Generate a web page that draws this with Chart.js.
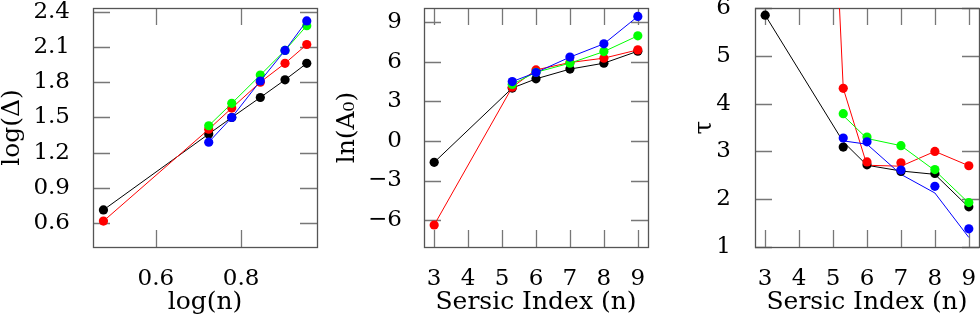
<!DOCTYPE html>
<html>
<head>
<meta charset="utf-8">
<script src="https://cdn.jsdelivr.net/npm/chart.js@4/dist/chart.umd.min.js"></script>
<style>
  html, body { margin: 0; padding: 0; background: #fff; }
  body { width: 980px; height: 317px; position: relative; overflow: hidden; }
  canvas { position: absolute; top: 0; }
</style>
</head>
<body>
<canvas id="c1" width="320" height="317" style="left:0px"></canvas>
<canvas id="c2" width="320" height="317" style="left:330px"></canvas>
<canvas id="c3" width="320" height="317" style="left:660px"></canvas>
<script>
// x values
const sersicN = [3, 5.3, 6, 7, 8, 9];
const logN = [0.477, 0.724, 0.778, 0.845, 0.903, 0.954];

// panel 1: log(Delta) vs log(n)
const logDeltaBlack = [0.715, 1.36, 1.50, 1.67, 1.82, 1.96];
const logDeltaRed   = [0.62, 1.40, 1.58, 1.80, 1.96, 2.12];
const logDeltaGreen = [null, 1.43, 1.62, 1.86, 2.07, 2.28];
const logDeltaBlue  = [null, 1.29, 1.50, 1.81, 2.07, 2.32];

// panel 2: ln(A0) vs Sersic index
const lnA0Black = [-1.62, 4.02, 4.72, 5.46, 5.91, 6.82];
const lnA0Red   = [-6.38, 4.09, 5.40, 5.96, 6.29, 6.92];
const lnA0Green = [null, 4.30, 5.22, 5.91, 6.79, 7.99];
const lnA0Blue  = [null, 4.51, 5.20, 6.37, 7.38, 9.46];

// panel 3: tau vs Sersic index (markers and the connecting curves differ a little)
const tauBlack = [5.85, 3.09, 2.72, 2.58, 2.54, 1.84];
const tauRed   = [39.5, 4.32, 2.78, 2.76, 3.00, 2.70];
const tauGreen = [null, 3.79, 3.30, 3.12, 2.62, 1.93];
const tauBlue  = [null, 3.28, 3.20, 2.61, 2.27, 1.38];
const tauLineBlack = [5.85, 3.20, 2.71, 2.59, 2.52, 1.83];
const tauLineRed   = [39.5, 4.32, 2.71, 2.69, 3.00, 2.70];
const tauLineGreen = [null, 3.75, 3.27, 3.12, 2.60, 1.92];
const tauLineBlue  = [null, 3.22, 3.15, 2.52, 2.13, 1.20];

const FONT = "'DejaVu Serif', 'Liberation Serif', serif";

function pts(xs, ys) {
  const out = [];
  for (let i = 0; i < xs.length; i++) {
    if (ys[i] !== null) out.push({x: xs[i], y: ys[i]});
  }
  return out;
}

// frame with inward ticks on all four sides
const inwardTicks = {
  id: 'inwardTicks',
  beforeDatasetsDraw(chart) {
    const {ctx, chartArea: a, scales: {x, y}} = chart;
    const len = 17;
    ctx.save();
    ctx.strokeStyle = '#777';
    ctx.lineWidth = 1.3;
    ctx.beginPath();
    x.ticks.forEach(t => {
      const px = Math.round(x.getPixelForValue(t.value)) + 0.5;
      ctx.moveTo(px, a.bottom); ctx.lineTo(px, a.bottom - len);
      ctx.moveTo(px, a.top); ctx.lineTo(px, a.top + len);
    });
    y.ticks.forEach(t => {
      const py = Math.round(y.getPixelForValue(t.value)) + 0.5;
      ctx.moveTo(a.left, py); ctx.lineTo(a.left + len, py);
      ctx.moveTo(a.right, py); ctx.lineTo(a.right - len, py);
    });
    ctx.stroke();
    ctx.strokeStyle = '#555';
    ctx.lineWidth = 1.3;
    ctx.strokeRect(a.left + 0.5, a.top + 0.5, a.width, a.height);
    ctx.restore();
  }
};

function series(xs, ys, color, order, mode) {
  const ds = {
    data: pts(xs, ys),
    borderColor: color,
    backgroundColor: color,
    borderWidth: 1,
    pointRadius: 4.6,
    pointBorderWidth: 0,
    pointHoverRadius: 4.6,
    tension: 0,
    order: order
  };
  if (mode === 'points') ds.showLine = false;
  if (mode === 'line') ds.pointRadius = 0;
  return ds;
}

function panel(id, cfg) {
  return new Chart(document.getElementById(id), {
    type: 'line',
    data: {datasets: cfg.datasets},
    options: {
      responsive: false,
      animation: false,
      events: [],
      layout: {autoPadding: false, padding: {top: 8, right: cfg.padRight, left: 0, bottom: 0}},
      plugins: {legend: {display: false}, tooltip: {enabled: false}},
      scales: {
        x: {
          type: 'linear',
          min: cfg.xMin, max: cfg.xMax,
          grid: {display: false},
          border: {display: false},
          ticks: {stepSize: cfg.xStep, includeBounds: false, color: '#000',
                  font: {family: FONT, size: 23}, padding: 10, maxRotation: 0,
                  callback: cfg.xFmt},
          title: {display: true, text: cfg.xTitle, color: '#000',
                  font: {family: FONT, size: 25, lineHeight: 1}, padding: {top: 0, bottom: 2}},
          afterFit(s) { s.height = 70; s.paddingLeft = 0; s.paddingRight = 0; }
        },
        y: {
          type: 'linear',
          min: cfg.yMin, max: cfg.yMax,
          grid: {display: false},
          border: {display: false},
          ticks: {stepSize: cfg.yStep, includeBounds: false, color: '#000',
                  font: {family: FONT, size: 23}, padding: cfg.yPad,
                  callback: cfg.yFmt},
          title: {display: true, text: cfg.yTitle, color: '#000',
                  font: {family: FONT, size: 25, lineHeight: 1}, padding: {top: cfg.yTitlePad, bottom: 0}},
          afterFit(s) { s.width = cfg.yWidth; s.paddingTop = 0; s.paddingBottom = 0; }
        }
      }
    },
    plugins: [inwardTicks]
  });
}

const minus = v => (v < 0 ? '\u2212' + Math.abs(v) : String(v));

panel('c1', {
  datasets: [
    series(logN, logDeltaBlue, '#0000ff', 1),
    series(logN, logDeltaGreen, '#00ff00', 2),
    series(logN, logDeltaRed, '#ff0000', 3),
    series(logN, logDeltaBlack, '#000000', 4)
  ],
  xMin: 0.4525, xMax: 0.978, xStep: 0.2, xFmt: v => v.toFixed(1), xTitle: 'log(n)',
  yMin: 0.4, yMax: 2.43, yStep: 0.3, yFmt: v => v.toFixed(1), yTitle: 'log(\u0394)',
  yWidth: 93, yPad: 15, yTitlePad: 0, padRight: 3
});

panel('c2', {
  datasets: [
    series(sersicN, lnA0Blue, '#0000ff', 1),
    series(sersicN, lnA0Green, '#00ff00', 2),
    series(sersicN, lnA0Red, '#ff0000', 3),
    series(sersicN, lnA0Black, '#000000', 4)
  ],
  xMin: 2.7, xMax: 9.3, xStep: 1, xFmt: v => String(v), xTitle: 'Sersic Index (n)',
  yMin: -8.05, yMax: 10.1, yStep: 3, yFmt: minus, yTitle: 'ln(A\u2080)',
  yWidth: 94, yPad: 14, yTitlePad: 5, padRight: 2
});

panel('c3', {
  datasets: [
    series(sersicN, tauBlue, '#0000ff', 1, 'points'),
    series(sersicN, tauGreen, '#00ff00', 2, 'points'),
    series(sersicN, tauRed, '#ff0000', 3, 'points'),
    series(sersicN, tauBlack, '#000000', 4, 'points'),
    series(sersicN, tauLineBlue, '#0000ff', 5, 'line'),
    series(sersicN, tauLineGreen, '#00ff00', 6, 'line'),
    series(sersicN, tauLineRed, '#ff0000', 7, 'line'),
    series(sersicN, tauLineBlack, '#000000', 8, 'line')
  ],
  xMin: 2.7, xMax: 9.3, xStep: 1, xFmt: v => String(v), xTitle: 'Sersic Index (n)',
  yMin: 1, yMax: 6, yStep: 1, yFmt: v => String(v), yTitle: '\u03c4',
  yWidth: 95, yPad: 16, yTitlePad: 32, padRight: 1
});
</script>
</body>
</html>
